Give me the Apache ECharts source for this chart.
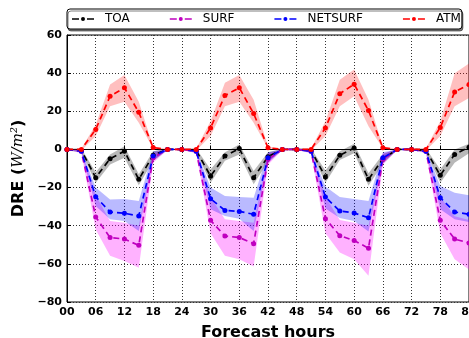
<!DOCTYPE html>
<html><head><meta charset="utf-8">
<script src="https://cdn.jsdelivr.net/npm/echarts@6/dist/echarts.min.js"></script>
<style>html,body{margin:0;padding:0;background:#fff}#c{width:469px;height:338px}</style>
</head><body><div id="c"></div>
<script>
const hours = [0,3,6,9,12,15,18,21,24,27,30,33,36,39,42,45,48,51,54,57,60,63,66,69,72,75,78,81,84];
const xTicks = ['00','06','12','18','24','30','36','42','48','54','60','66','72','78','84'];
const yTicks = [-80,-60,-40,-20,0,20,40,60];

const toa   = [0,-0.5,-14.8,-4.9,-0.9,-15.7,-3,0,0,-0.5,-14,-3.5,0.5,-14.8,-3.8,0,0,-0.5,-14.5,-3.1,0.8,-15.7,-5,0,0,-0.5,-13.6,-2.6,1.2];
const toaUp = [0.5,0.5,-12,-2.6,1.7,-13,-1,0.3,0.3,0.5,-10.5,-1.5,2.6,-11.3,-1.5,0.3,0.3,0.5,-11,-1,3,-12.5,-2.5,0.3,0.3,0.5,-10.5,0,3];
const toaLo = [-0.5,-1.5,-17.5,-7.9,-4.4,-18.8,-6,-0.3,-0.3,-1.5,-17.5,-6,-2.6,-18.3,-6.5,-0.3,-0.3,-1.5,-17.5,-5.5,-2,-19,-7.5,-0.3,-0.3,-1.5,-17.5,-7,-2];

const surf   = [0,-1,-35.4,-46.2,-47,-50.3,-4.4,0,0,-1,-37.2,-45.4,-46.2,-49.4,-5.2,0,0,-1,-36.3,-45.2,-47.8,-51.8,-5.2,0,0,-1,-37.2,-47,-49];
const surfUp = [0,-0.3,-24,-37.5,-38.4,-40,-1.7,0,0,-0.3,-25,-36.6,-37.5,-38.4,-2,0,0,-0.3,-25,-37,-38.5,-40,-2,0,0,-0.3,-25,-35,-37];
const surfLo = [0,-2,-42,-55.8,-58.5,-62,-7,-0.3,-0.3,-2,-44,-55.8,-57.6,-61.4,-8,-0.3,-0.3,-2,-44,-54,-57.6,-66.3,-8,-0.3,-0.3,-2,-44,-57.6,-63];

const netsurf   = [0,-1,-24.8,-32.8,-33.5,-34.9,-3.5,0,0,-1,-25.8,-32,-32.5,-34,-4.4,0,0,-1,-25,-32.3,-33.3,-35.8,-4.4,0,0,-1,-25.3,-32.8,-34];
const netsurfUp = [0,-0.3,-20,-26.2,-26,-27,-1,0,0,-0.3,-20,-24.4,-25,-25.3,-1.5,0,0,-0.3,-19.5,-25,-26,-27,-1.5,0,0,-0.3,-19.2,-22.7,-24];
const netsurfLo = [0,-1.8,-29.7,-36.6,-37.5,-42.8,-6,-0.3,-0.3,-1.8,-31.4,-34.9,-36.3,-42.8,-7,-0.3,-0.3,-1.8,-31,-36,-37.5,-43,-7,-0.3,-0.3,-1.8,-31.4,-36.6,-38];

const atm   = [0,0,10.5,27.9,32.3,19.5,1,0,0,0,11.3,28.3,32.3,18.8,0.9,0,0,0,11.3,29.2,34.2,20.4,0.9,0,0,0,11.5,30.1,34];
const atmUp = [0,0.5,13,34,39,25,1.5,0.2,0.2,0.5,14.8,35,39,26,1.5,0.2,0.2,0.5,14.8,36.6,41.9,26,1.5,0.2,0.2,0.5,14.8,40,45];
const atmLo = [0,-0.5,7,22.7,25,14,0.5,-0.2,-0.2,-0.5,7,22.7,25,14,0.5,-0.2,-0.2,-0.5,7,22.7,27.9,12.2,0.5,-0.2,-0.2,-0.5,7,22.7,27];

const names = ['TOA','SURF','NETSURF','ATM'];
const colors = ['#000000','#bf00bf','#0000ff','#ff0000'];
const bandColors = ['rgba(0,0,0,0.28)','rgba(255,0,255,0.3)','rgba(0,0,255,0.27)','rgba(255,0,0,0.25)'];
const mids = [toa, surf, netsurf, atm];
const ups = [toaUp, surfUp, netsurfUp, atmUp];
const los = [toaLo, surfLo, netsurfLo, atmLo];

const pairs = arr => hours.map((h,i)=>[h,arr[i]]);
const series = [];
names.forEach((n,k)=>{
  series.push({
    name: n+'_band', type:'custom', silent:true, z:1, clip:true,
    data: [[hours[0], 0]],
    encode:{x:0, y:1},
    renderItem: (params, api) => {
      const pts = [];
      hours.forEach((h,i)=>pts.push(api.coord([h, ups[k][i]])));
      for (let i = hours.length-1; i >= 0; i--) pts.push(api.coord([hours[i], los[k][i]]));
      return {type:'polygon', shape:{points:pts}, style:{fill:bandColors[k], stroke:null}};
    }
  });
});
names.forEach((n,k)=>{
  series.push({
    name: n, type:'line', data: pairs(mids[k]),
    symbol:'circle', symbolSize:5, showSymbol:true,
    itemStyle:{color:colors[k]},
    lineStyle:{color:colors[k], width:1.7, type:[6,4]}, z:3
  });
});

const legendIcon = 'path://M0,3.7h7v1.6h-7z M9,4.5a2,2 0 1,0 4,0a2,2 0 1,0 -4,0z M15,3.7h7v1.6h-7z';
const fmtY = v => v < 0 ? '\u2212' + Math.abs(v) : String(v);

const chart = echarts.init(document.getElementById('c'), null, {renderer:'canvas'});
chart.setOption({
  animation:false,
  backgroundColor:'#fff',
  legend:{
    data: names.map(n=>({name:n, icon:legendIcon})),
    left:67, top:9, itemWidth:22, itemHeight:9, itemGap:40,
    padding:[4,1,4,5],
    textStyle:{fontFamily:'DejaVu Sans', fontSize:12, color:'#000', padding:[0,0,0,6]},
    backgroundColor:'#fff', borderColor:'#000', borderWidth:1, borderRadius:3,
    shadowColor:'rgba(0,0,0,0.5)', shadowBlur:0, shadowOffsetX:1, shadowOffsetY:2
  },
  grid:{left:67, right:0, top:35, bottom:36, show:true, borderColor:'#000', borderWidth:1,
    backgroundColor:'#fff', containLabel:false, outerBoundsMode:'none'},
  xAxis:{
    type:'value', min:0, max:84, interval:6,
    name:'Forecast hours', nameLocation:'middle', nameGap:23,
    nameTextStyle:{fontFamily:'DejaVu Sans', fontWeight:'bold', fontSize:16, color:'#000'},
    axisLine:{lineStyle:{color:'#000'}},
    axisTick:{inside:true, length:4, lineStyle:{color:'#000'}},
    axisLabel:{margin:5, fontFamily:'DejaVu Sans', fontWeight:'bold', fontSize:11, color:'#000',
      hideOverlap:false, formatter: v => xTicks[Math.round(v/6)] },
    splitLine:{show:true, lineStyle:{color:'#333', type:[1,2], width:1}}
  },
  yAxis:{
    type:'value', min:yTicks[0], max:yTicks[yTicks.length-1], interval:20,
    name:'{b|DRE (}{i|W/m\u00B2}{b|)}', nameLocation:'middle', nameGap:38, nameRotate:90,
    nameTextStyle:{color:'#000', rich:{
      b:{fontFamily:'DejaVu Sans', fontWeight:'bold', fontSize:16, color:'#000'},
      i:{fontFamily:'DejaVu Serif', fontStyle:'italic', fontSize:15, color:'#000'}
    }},
    axisLine:{show:true, lineStyle:{color:'#000'}},
    axisTick:{show:true, inside:true, length:4, lineStyle:{color:'#000'}},
    axisLabel:{margin:5, fontFamily:'DejaVu Sans', fontWeight:'bold', fontSize:11, color:'#000', formatter: fmtY},
    splitLine:{show:true, lineStyle:{color:'#333', type:[1,2], width:1}}
  },
  series: series
});
</script>
</body></html>
